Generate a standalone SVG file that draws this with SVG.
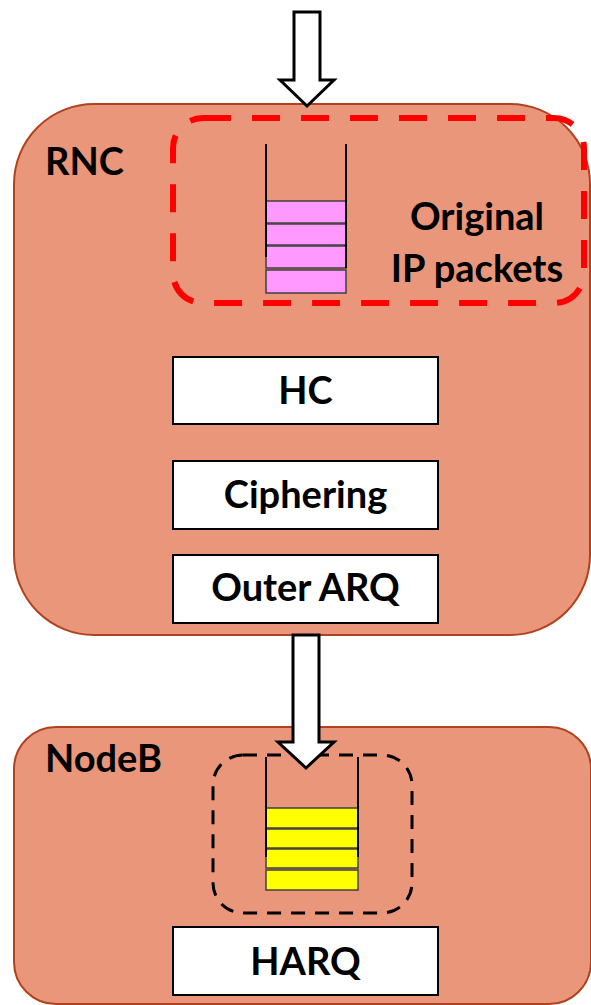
<svg xmlns="http://www.w3.org/2000/svg" width="591" height="1005" viewBox="0 0 591 1005">
  <style>
    .node-body { fill: #E9967A; stroke: #B0431F; stroke-width: 2; }
    .block { fill: #FFFFFF; stroke: #000000; stroke-width: 2; }
    .label { font-family: Lato, "Liberation Sans", sans-serif; font-weight: bold; fill: #000000; }
    .title { font-size: 38px; }
    .block-text { font-size: 38px; text-anchor: middle; }
    .buffer-wall { stroke: #000000; stroke-width: 2; fill: none; }
    .pkt-ip { fill: #FF99FF; stroke: #404040; stroke-width: 1.5; }
    .pkt-nb { fill: #FFFF00; stroke: #404040; stroke-width: 1.5; }
    .flow-arrow { fill: #FFFFFF; stroke: #000000; stroke-width: 3; stroke-linejoin: miter; }
  </style>

  <!-- RNC: radio network controller -->
  <g id="rnc">
    <rect class="node-body" x="14" y="104" width="576" height="531" rx="80" ry="80"/>
    <text class="label title" x="45" y="175" font-size="39">RNC</text>
  </g>

  <!-- original IP packet queue in the RNC -->
  <g id="ip-queue">
    <rect x="173" y="118" width="411" height="185" rx="30" ry="30" fill="none" stroke="#FF0000" stroke-width="6" stroke-dasharray="28 21"/>
    <rect class="pkt-ip" x="266" y="201" width="80" height="22"/>
    <rect class="pkt-ip" x="266" y="224" width="80" height="21"/>
    <rect class="pkt-ip" x="266" y="246" width="80" height="22"/>
    <rect class="pkt-ip" x="266" y="270" width="80" height="23"/>
    <line class="buffer-wall" x1="266" y1="144" x2="266" y2="257"/>
    <line class="buffer-wall" x1="346" y1="144" x2="346" y2="268"/>
    <text class="label title" x="477" y="230" text-anchor="middle">Original</text>
    <text class="label title" x="477" y="282" text-anchor="middle">IP packets</text>
  </g>

  <g id="hc">
    <rect class="block" x="173" y="357" width="265" height="67"/>
    <text class="label block-text" x="305.5" y="404">HC</text>
  </g>

  <g id="ciphering">
    <rect class="block" x="173" y="461" width="265" height="68"/>
    <text class="label block-text" x="305.5" y="508">Ciphering</text>
  </g>

  <g id="outer-arq">
    <rect class="block" x="173" y="555" width="265" height="68"/>
    <text class="label block-text" x="305.5" y="601">Outer ARQ</text>
  </g>

  <!-- NodeB: base station -->
  <g id="nodeb">
    <rect class="node-body" x="14" y="727" width="577" height="277" rx="42" ry="42"/>
    <text class="label title" x="45" y="772" font-size="41">NodeB</text>
  </g>

  <!-- packet queue in the NodeB -->
  <g id="nodeb-queue">
    <rect x="213" y="755" width="199" height="158" rx="30" ry="30" fill="none" stroke="#000000" stroke-width="3" stroke-dasharray="14 10"/>
    <rect class="pkt-nb" x="266" y="808" width="92" height="20"/>
    <rect class="pkt-nb" x="266" y="829" width="92" height="19"/>
    <rect class="pkt-nb" x="266" y="849" width="92" height="19"/>
    <rect class="pkt-nb" x="266" y="870" width="92" height="20"/>
    <line class="buffer-wall" x1="266" y1="757" x2="266" y2="857"/>
    <line class="buffer-wall" x1="358" y1="757" x2="358" y2="857"/>
  </g>

  <g id="harq">
    <rect class="block" x="173" y="927" width="265" height="68"/>
    <text class="label block-text" x="305.5" y="975">HARQ</text>
  </g>

  <!-- block arrows: data into the RNC and from the RNC down to the NodeB -->
  <g id="connectors">
    <polygon class="flow-arrow" points="294,12 320,12 320,80 334,80 307,106 280,80 294,80"/>
    <polygon class="flow-arrow" points="293,635 319,635 319,742 334,742 306,768 278,742 293,742"/>
  </g>
</svg>
